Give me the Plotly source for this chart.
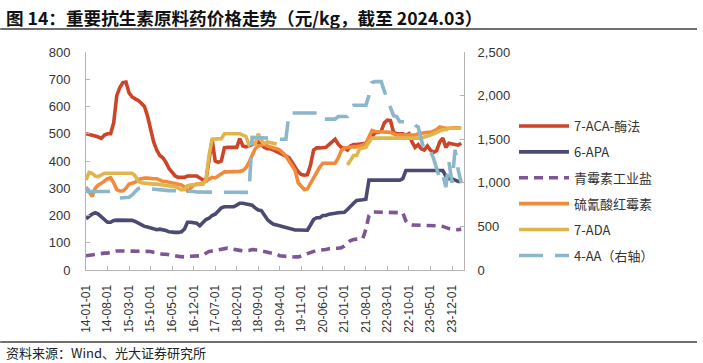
import plotly.graph_objects as go

# ---------------- data ----------------
tick_labels = ["14-01-01", "14-08-01", "15-03-01", "15-10-01", "16-05-01", "16-12-01",
               "17-07-01", "18-02-01", "18-09-01", "19-04-01", "19-11-01", "20-06-01",
               "21-01-01", "21-08-01", "22-03-01", "22-10-01", "23-05-01", "23-12-01"]
months = []
for y in range(2014, 2025):
    for m in range(1, 13):
        if y == 2024 and m > 3:
            break
        months.append(f"{y % 100:02d}-{m:02d}-01")

aca7 = [500, 498, 495, 492, 488, 483, 495, 500, 500, 540,
        640, 670, 688, 690, 650, 635, 628, 622, 612, 600,
        565, 510, 470, 440, 420, 412, 395, 372, 358, 345,
        340, 340, 340, 345, 345, 345, 345, 338, 330, 328,
        400, 478, 400, 395, 400, 448, 450, 450, 450, 450,
        482, 455, 452, 455, 460, 465, 470, 460, 450, 445,
        445, 440, 435, 430, 425, 420, 412, 395, 378, 360,
        350, 348, 350, 385, 440, 448, 448, 448, 450, 460,
        468, 480, 462, 450, 448, 440, 455, 460, 460, 462,
        462, 465, 470, 490, 505, 505, 510, 540, 550, 548,
        505, 500, 500, 500, 495, 500, 470, 450, 460, 445,
        440, 455, 440, 432, 438, 470, 484, 450, 465, 462,
        458, 458, 465]

apa6 = [188, 198, 205, 210, 205, 195, 185, 175, 175, 182,
        183, 183, 183, 182, 180, 182, 178, 172, 165, 160,
        158, 155, 150, 148, 150, 148, 145, 140, 138, 138,
        138, 140, 150, 175, 175, 172, 172, 162, 172, 185,
        190, 200, 205, 215, 228, 232, 232, 232, 232, 238,
        245, 245, 243, 238, 238, 228, 220, 218, 200, 185,
        175, 168, 165, 162, 158, 155, 150, 148, 147, 147,
        147, 146, 146, 165, 185, 192, 192, 200, 200, 205,
        208, 208, 210, 210, 212, 222, 235, 245, 255, 258,
        258, 260, 330, 330, 330, 330, 330, 330, 330, 330,
        330, 330, 330, 335, 365, 365, 365, 365, 365, 365,
        365, 365, 365, 365, 365, 365, 365, 345, 335, 335,
        330, 325, 325]

penicillin = [52, 54, 55, 57, 58, 60, 62, 62, 65, 68,
              70, 70, 70, 70, 70, 70, 70, 70, 70, 70,
              70, 68, 65, 62, 60, 58, 58, 57, 55, 52,
              50, 48, 48, 50, 50, 50, 50, 52, 55, 62,
              68, 70, 72, 75, 78, 80, 80, 78, 75, 75,
              72, 70, 70, 72, 75, 75, 73, 70, 68, 65,
              65, 62, 58, 52, 50, 50, 50, 48, 48, 48,
              50, 55, 60, 65, 70, 72, 73, 73, 75, 78,
              80, 80, 80, 82, 88, 100, 108, 112, 112, 113,
              115, 150, 200, 213, 213, 213, 213, 213, 213, 213,
              213, 213, 213, 210, 180, 168, 165, 165, 165, 165,
              165, 165, 165, 165, 165, 162, 160, 155, 152, 150,
              148, 148, 150]

erythromycin = [305, 285, 270, 300, 312, 318, 325, 335, 338, 320,
                295, 290, 290, 300, 315, 318, 322, 332, 335, 337,
                337, 335, 335, 335, 330, 325, 325, 322, 320, 315,
                312, 312, 305, 290, 300, 312, 315, 315, 320, 328,
                335, 340, 338, 345, 355, 360, 360, 360, 360, 362,
                362, 365, 375, 395, 420, 445, 455, 460, 462, 455,
                450, 448, 445, 440, 430, 418, 400, 385, 365, 320,
                305, 295, 298, 318, 340, 358, 378, 392, 392, 392,
                392, 392, 410, 438, 448, 450, 450, 452, 452, 455,
                458, 465, 490, 512, 508, 508, 508, 508, 506, 505,
                500, 495, 495, 495, 495, 495, 495, 495, 500, 502,
                505, 505, 505, 510, 515, 525, 522, 520, 520, 522,
                522, 522, 520]

ada7 = [330, 358, 355, 345, 343, 350, 355, 355, 355, 355,
        355, 355, 355, 355, 355, 355, 345, 325, 320, 318,
        316, 315, 315, 315, 315, 312, 310, 308, 306, 306,
        300, 294, 295, 310, 312, 312, 312, 312, 315, 330,
        420, 480, 480, 480, 482, 500, 500, 500, 500, 500,
        500, 495, 490, 460, 470, 462, 500, 475, 465, 470,
        468, 465, 462,
        None, None, None, None, None, None, None, None, None, None, None,
        None, None, None, None, None, None, None, None, None, None, None,
        385, 400, 420, 420, 445,
        448, 450, 470, 484, 484, 484, 484, 484, 484, 484,
        484, 484, 484, 484, 484, 484, 484, 484, 484, 484,
        488, 490, 495, 500, 505, 510, 515, 515, 520, 520,
        520, 520, 520]

aa4 = [900, 900, 900, 895, 895, 900, 905, 900, 900, 870,
       840, 826, 826, 828, 835, 860, 900, 935, 940, 945,
       935, 930, 925, 920, 920, 915, 910, 910, 910, 910,
       910, 910, 910, 905, 905, 900, 895, 895, 890, 890,
       890, 890, 890, 890, 890, 890, 890, 890, 890, 890,
       890, 890, 890, 890, 1520, 1520, 1520, 1520, 1520, 1520,
       1510, 1510, 1500, 1500, 1500, 1500, 1800, 1800, 1800, 1800,
       1800, 1800, 1800, 1800, 1800, 1800, 1800, 1730, 1730, 1730,
       1730, 1730, 1760, 1760, 1760, 1760, 1870, 1890, 1890, 1890,
       1890, 1890, 2000, 2150, 2160, 2160, 2160, 2050, 1950, 1870,
       1770, 1760, 1700, 1700, 1700, 1700, 1690, 1660, 1640, 1500,
       1360, 1360, 1360, 1280, 1150, 1050, 1100, 950, 1240, 1000,
       1380, 1150, 1000]

names = ["7-ACA-酶法", "6-APA", "青霉素工业盐", "硫氰酸红霉素", "7-ADA", "4-AA（右轴）"]
colors = ["#cd4428", "#4b4a72", "#7f5596", "#f28a3c", "#e0b64c", "#8cb6ca"]

# ---------------- figure ----------------
x = list(range(len(months)))
tick_vals = [months.index(t) for t in tick_labels]

W, H = 703, 363
PL, PR, PT, PB = 86, 464, 52, 270   # plot area in pixels
RULE_Y = [29, 342]                  # header / footer rule positions (px from top)
RULE_X = [0, 697]


def fx(px):
    return px / W


def fy(py):
    return 1 - py / H


fig = go.Figure()
series = [aca7, apa6, penicillin, erythromycin, ada7]
dashes = ["solid", "solid", "9px,6px", "solid", "solid"]
for k, s in enumerate(series):
    fig.add_trace(go.Scatter(
        x=x, y=s, name=names[k], mode="lines", legendgroup=f"g{k}",
        line=dict(color=colors[k], width=3.6, dash=dashes[k]),
        connectgaps=False, hoverinfo="skip"))
fig.add_trace(go.Scatter(
    x=x, y=aa4, name=names[5], mode="lines", yaxis="y2", legendgroup="g5",
    line=dict(color=colors[5], width=3.6, dash="24px,12px"), hoverinfo="skip"))

tickfont = dict(family="Liberation Sans, Arial, sans-serif", size=13, color="#333333")
axis_line = "#b4b4b4"

annotations = [
    dict(text="<b>图 14：重要抗生素原料药价格走势（元/kg，截至 2024.03）</b>",
         xref="paper", yref="paper", x=fx(4), y=fy(17), xanchor="left", yanchor="middle",
         showarrow=False, font=dict(family="Noto Sans CJK SC, sans-serif", size=17.6, color="#111111")),
    dict(text="资料来源：Wind、光大证券研究所",
         xref="paper", yref="paper", x=fx(4), y=fy(352), xanchor="left", yanchor="middle",
         showarrow=False, font=dict(family="Noto Sans CJK SC, sans-serif", size=13, color="#222222")),
]
# header / footer rules drawn as head-less annotation arrows
for yy in RULE_Y:
    annotations.append(dict(
        text="", xref="paper", yref="paper", x=fx(RULE_X[1]), y=fy(yy),
        axref="pixel", ayref="pixel", ax=-(RULE_X[1] - RULE_X[0]), ay=0,
        showarrow=True, arrowhead=0, arrowwidth=1.5, arrowcolor="#666666",
        standoff=0, startstandoff=0))

shapes = [dict(type="line", xref="paper", yref="paper", x0=fx(RULE_X[0]), x1=fx(RULE_X[1]),
               y0=fy(yy), y1=fy(yy), line=dict(color="#666666", width=1.5))
          for yy in RULE_Y]

fig.update_layout(
    width=W, height=H, autosize=False,
    margin=dict(l=0, r=0, t=0, b=0, pad=0),
    plot_bgcolor="rgba(0,0,0,0)", paper_bgcolor="white",
    showlegend=True,
    legend=dict(x=fx(514), y=fy(111), xanchor="left", yanchor="top",
                font=dict(family="Noto Sans CJK SC, sans-serif", size=13, color="#333333"),
                itemwidth=50, tracegroupgap=6, bgcolor="rgba(0,0,0,0)",
                traceorder="grouped"),
    xaxis=dict(domain=[fx(PL), fx(PR)], range=[0, 122.9], tickmode="array",
               tickvals=tick_vals, ticktext=tick_labels,
               tickangle=-90, ticks="inside", ticklen=4, tickcolor=axis_line,
               showline=True, linecolor=axis_line, linewidth=1, showgrid=False, zeroline=False,
               tickfont=dict(family="Liberation Sans, Arial, sans-serif", size=12, color="#333333"),
               ticklabelstandoff=9, automargin=False),
    yaxis=dict(domain=[fy(PB), fy(PT)], range=[0, 800], dtick=100, ticks="inside", ticklen=4,
               tickcolor=axis_line,
               showline=True, linecolor=axis_line, linewidth=1, showgrid=False, zeroline=False,
               tickfont=tickfont, ticklabelstandoff=12, automargin=False),
    yaxis2=dict(range=[0, 2500], dtick=500, overlaying="y", side="right", tickformat=",",
                ticks="inside", ticklen=4, tickcolor=axis_line,
                showline=True, linecolor=axis_line, linewidth=1, showgrid=False, zeroline=False,
                tickfont=tickfont, ticklabelstandoff=10, automargin=False),
    shapes=shapes,
    annotations=annotations,
)

fig.write_html("out.html", config={"displayModeBar": False},
               post_script="document.body.style.margin='0';")
